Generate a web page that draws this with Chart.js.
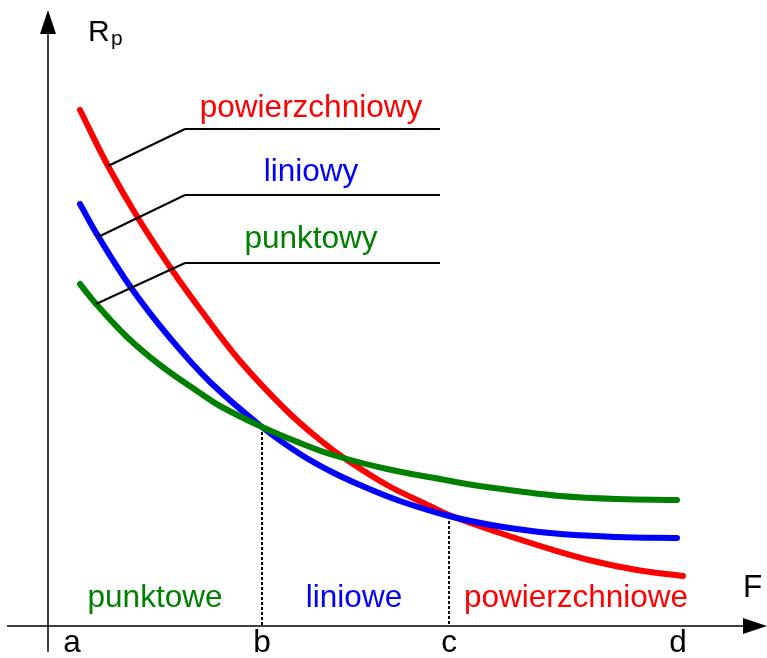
<!DOCTYPE html>
<html>
<head>
<meta charset="utf-8">
<title>Rp(F)</title>
<script src="https://cdn.jsdelivr.net/npm/chart.js@4/dist/chart.umd.min.js"></script>
<style>
  html, body { margin: 0; padding: 0; background: #fff; }
  canvas { display: block; }
</style>
</head>
<body>
<canvas id="rpChart" width="767" height="658"></canvas>
<script>
// curves (F along x, Rp up)
const redF   = [32, 60, 90, 124, 152, 192, 239, 272, 299, 339, 382, 401, 449, 502, 545, 589, 635];
const redR   = [516, 460, 408, 356, 317, 265, 215, 186, 166, 141, 120, 111, 94, 77, 65, 56, 50];
const blueF  = [32, 50, 84, 122, 162, 214, 252, 282, 312, 352, 401, 449, 502, 569, 629];
const blueR  = [422, 390, 337, 288, 244, 199, 172, 155, 141, 125, 110, 100, 93, 89, 88];
const greenF = [32, 49, 79, 112, 152, 172, 214, 252, 285, 339, 392, 425, 469, 512, 569, 629];
const greenR = [342, 321, 289, 261, 233, 220, 199, 183, 171, 157, 147, 141, 135, 130, 127, 126];

const tickLabels = ['a', 'b', 'c', 'd'];
const tickValues = [24, 214, 401, 630];
const dividerF = [214, 401];
const dividerR = [199, 110];
const regionLabels = ['punktowe', 'liniowe', 'powierzchniowe'];
const seriesNames = ['powierzchniowy', 'liniowy', 'punktowy'];

const RED = '#ff0000', BLUE = '#0000ff', GREEN = '#008000';
const FONT = '"Liberation Sans", Arial, sans-serif';

const toPoints = (xs, ys) => xs.map((v, i) => ({ x: v, y: ys[i] }));

function line(ctx, x1, y1, x2, y2) {
  ctx.beginPath();
  ctx.moveTo(x1, y1);
  ctx.lineTo(x2, y2);
  ctx.stroke();
}

const sketch = {
  id: 'sketch',
  beforeDatasetsDraw(chart) {
    const { ctx, scales: { x, y } } = chart;
    ctx.save();
    ctx.strokeStyle = '#000';
    ctx.lineWidth = 2;
    ctx.setLineDash([3, 2]);
    dividerF.forEach((f, i) => {
      const px = Math.round(x.getPixelForValue(f));
      line(ctx, px, y.getPixelForValue(dividerR[i]), px, y.getPixelForValue(0));
    });
    ctx.restore();
  },
  afterDatasetsDraw(chart) {
    const { ctx, scales: { x, y } } = chart;
    const X = v => x.getPixelForValue(v), Y = v => y.getPixelForValue(v);
    ctx.save();
    ctx.strokeStyle = '#000';
    ctx.fillStyle = '#000';
    ctx.lineWidth = 1.5;

    // axes with arrow heads
    const ox = X(0), oy = Y(0);
    line(ctx, ox, Y(-26), ox, Y(600));
    ctx.beginPath();
    ctx.moveTo(ox, Y(616)); ctx.lineTo(ox - 8, Y(592)); ctx.lineTo(ox + 8, Y(592)); ctx.closePath();
    ctx.fill();
    line(ctx, X(-41), oy, X(705), oy);
    ctx.beginPath();
    ctx.moveTo(X(719), oy); ctx.lineTo(X(695), oy - 8); ctx.lineTo(X(695), oy + 8); ctx.closePath();
    ctx.fill();

    // leader lines to the curves
    ctx.lineWidth = 2;
    const levels = [497, 431, 363];
    const targets = [[60, 460], [50, 389], [48, 322]];
    levels.forEach((r, i) => {
      line(ctx, X(137), Y(r), X(392), Y(r));
      line(ctx, X(137), Y(r), X(targets[i][0]), Y(targets[i][1]));
    });

    // texts
    ctx.textAlign = 'center';
    ctx.textBaseline = 'alphabetic';
    ctx.font = '31.5px ' + FONT;
    const nameColors = [RED, BLUE, GREEN];
    const nameBase = [509, 445, 378];
    seriesNames.forEach((s, i) => {
      ctx.fillStyle = nameColors[i];
      ctx.fillText(s, X(263), Y(nameBase[i]));
    });

    const regionColors = [GREEN, BLUE, RED];
    const regionCenters = [107, 306, 528];
    regionLabels.forEach((s, i) => {
      ctx.fillStyle = regionColors[i];
      ctx.fillText(s, X(regionCenters[i]), Y(19));
    });

    ctx.fillStyle = '#000';
    tickLabels.forEach((s, i) => ctx.fillText(s, X(tickValues[i]), Y(-26)));
    ctx.textAlign = 'left';
    ctx.fillText('F', X(695), Y(29));
    ctx.font = '30px ' + FONT;
    ctx.fillText('R', X(40), Y(585));
    ctx.font = '21px ' + FONT;
    ctx.fillText('p', X(63), Y(581));
    ctx.restore();
  }
};

const curve = (label, xs, ys, color) => ({
  label,
  data: toPoints(xs, ys),
  showLine: true,
  borderColor: color,
  backgroundColor: color,
  borderWidth: 6,
  borderCapStyle: 'round',
  pointRadius: 0,
  tension: 0.4
});

new Chart(document.getElementById('rpChart'), {
  type: 'scatter',
  data: {
    datasets: [
      curve('punktowy', greenF, greenR, GREEN),
      curve('liniowy', blueF, blueR, BLUE),
      curve('powierzchniowy', redF, redR, RED)
    ]
  },
  options: {
    responsive: false,
    animation: false,
    layout: { padding: 0 },
    plugins: { legend: { display: false }, tooltip: { enabled: false } },
    scales: {
      x: { type: 'linear', min: -48, max: 719, display: false },
      y: { type: 'linear', min: -32, max: 626, display: false }
    }
  },
  plugins: [sketch]
});
</script>
</body>
</html>
